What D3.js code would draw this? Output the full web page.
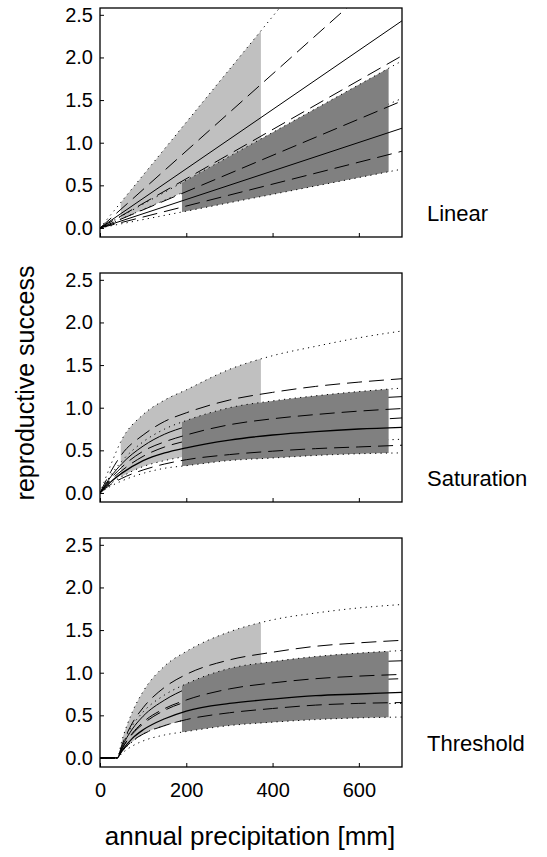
<!DOCTYPE html>
<html>
<head>
    <title>Reproductive success</title>
    <script src="https://d3js.org/d3.v7.min.js"></script>
    <style>
        body { margin: 0; background: white; }
        text { font-family: "Liberation Sans", Arial, sans-serif; fill: black; }
    </style>
</head>
<body>
<div id="chart"></div>
<script>
    // panel names and tick values
    const panelNames = ["Linear", "Saturation", "Threshold"];
    const yTicks = [0, 0.5, 1.0, 1.5, 2.0, 2.5];
    const xTicks = [0, 200, 400, 600];

    // line order in every group: 95% upper, 50% upper, median, 50% lower, 95% lower
    const lineStyles = ["dotted", "dashed", "solid", "dashed", "dotted"];

    // x spans of the shaded bands (group A light grey, group B dark grey)
    const bandA = [48, 373];
    const bandB = [190, 669];

    // Linear
    const xLin = [0, 700];
    const linA = [
        [0, 4.34], [0, 3.16], [0, 2.43], [0, 2.02], [0, 1.52]
    ];
    const linB = [
        [0, 1.96], [0, 1.49], [0, 1.17], [0, 0.90], [0, 0.69]
    ];

    // Saturation
    const xSat = [0, 25, 50, 100, 150, 200, 300, 400, 500, 600, 700];
    const satA = [
        [0, 0.33, 0.62, 0.92, 1.09, 1.21, 1.45, 1.61, 1.72, 1.82, 1.90],
        [0, 0.25, 0.45, 0.68, 0.84, 0.94, 1.09, 1.18, 1.25, 1.30, 1.34],
        [0, 0.19, 0.34, 0.55, 0.69, 0.78, 0.92, 0.99, 1.05, 1.10, 1.13],
        [0, 0.15, 0.26, 0.43, 0.54, 0.61, 0.71, 0.77, 0.82, 0.85, 0.88],
        [0, 0.11, 0.19, 0.31, 0.38, 0.43, 0.51, 0.55, 0.59, 0.61, 0.63]
    ];
    const satB = [
        [0, 0.21, 0.37, 0.60, 0.75, 0.85, 1.00, 1.08, 1.14, 1.19, 1.23],
        [0, 0.17, 0.30, 0.49, 0.60, 0.68, 0.80, 0.87, 0.92, 0.96, 0.99],
        [0, 0.13, 0.23, 0.38, 0.47, 0.53, 0.62, 0.68, 0.72, 0.75, 0.77],
        [0, 0.10, 0.17, 0.27, 0.34, 0.39, 0.45, 0.49, 0.52, 0.54, 0.56],
        [0, 0.08, 0.14, 0.23, 0.29, 0.32, 0.38, 0.41, 0.44, 0.46, 0.47]
    ];

    // Threshold
    const xThr = [0, 40, 50, 75, 100, 150, 200, 300, 400, 500, 600, 700];
    const thrA = [
        [0, 0, 0.19, 0.54, 0.78, 1.08, 1.25, 1.48, 1.62, 1.70, 1.76, 1.80],
        [0, 0, 0.14, 0.41, 0.59, 0.83, 0.98, 1.15, 1.24, 1.31, 1.35, 1.38],
        [0, 0, 0.12, 0.34, 0.49, 0.68, 0.81, 0.95, 1.03, 1.08, 1.12, 1.14],
        [0, 0, 0.10, 0.28, 0.40, 0.56, 0.66, 0.77, 0.84, 0.88, 0.91, 0.93],
        [0, 0, 0.07, 0.19, 0.28, 0.38, 0.45, 0.53, 0.58, 0.61, 0.63, 0.64]
    ];
    const thrB = [
        [0, 0, 0.13, 0.38, 0.54, 0.74, 0.87, 1.05, 1.13, 1.19, 1.23, 1.26],
        [0, 0, 0.10, 0.29, 0.42, 0.58, 0.68, 0.81, 0.88, 0.93, 0.96, 0.98],
        [0, 0, 0.08, 0.23, 0.33, 0.46, 0.55, 0.64, 0.69, 0.73, 0.75, 0.77],
        [0, 0, 0.07, 0.20, 0.28, 0.38, 0.45, 0.53, 0.58, 0.62, 0.64, 0.65],
        [0, 0, 0.05, 0.14, 0.20, 0.27, 0.31, 0.38, 0.42, 0.45, 0.47, 0.48]
    ];

    const panels = [
        { x: xLin, a: linA, b: linB },
        { x: xSat, a: satA, b: satB },
        { x: xThr, a: thrA, b: thrB }
    ];

    const width = 547, height = 857;
    const left = 100, right = 402;
    const panelTop = 8, panelStep = 265, panelH = 229;

    const dash = { solid: null, dashed: "15 7", dotted: "1.2 4.2" };

    const svg = d3.select("#chart").append("svg")
        .attr("width", width)
        .attr("height", height);

    const x = d3.scaleLinear().domain([0, 700]).range([left, right]);

    panels.forEach((p, i) => {
        const top = panelTop + i * panelStep;
        const y = d3.scaleLinear().domain([-0.106, 2.58]).range([top + panelH, top]);
        const g = svg.append("g");

        // clip paths: whole plot, band A, band B
        const defs = g.append("defs");
        defs.append("clipPath").attr("id", "plot" + i)
            .append("rect").attr("x", left).attr("y", top)
            .attr("width", right - left).attr("height", panelH);
        defs.append("clipPath").attr("id", "bandA" + i)
            .append("rect").attr("x", x(bandA[0])).attr("y", top)
            .attr("width", x(bandA[1]) - x(bandA[0])).attr("height", panelH);
        defs.append("clipPath").attr("id", "bandB" + i)
            .append("rect").attr("x", x(bandB[0])).attr("y", top)
            .attr("width", x(bandB[1]) - x(bandB[0])).attr("height", panelH);

        const line = d3.line()
            .x((d, k) => x(p.x[k]))
            .y(d => y(d))
            .curve(d3.curveMonotoneX);

        const area = (upper, lower) => d3.area()
            .x((d, k) => x(p.x[k]))
            .y0((d, k) => y(lower[k]))
            .y1((d, k) => y(upper[k]))
            .curve(d3.curveMonotoneX)(upper);

        const plot = g.append("g").attr("clip-path", `url(#plot${i})`);

        // light band
        plot.append("path")
            .attr("clip-path", `url(#bandA${i})`)
            .attr("d", area(p.a[0], p.a[4]))
            .attr("fill", "#c0c0c0");

        // group A lines
        plot.selectAll(".lineA")
            .data(p.a)
            .join("path")
            .attr("class", "lineA")
            .attr("d", line)
            .attr("fill", "none")
            .attr("stroke", "black")
            .attr("stroke-width", 1)
            .attr("stroke-dasharray", (d, k) => dash[lineStyles[k]]);

        // dark band
        plot.append("path")
            .attr("clip-path", `url(#bandB${i})`)
            .attr("d", area(p.b[0], p.b[4]))
            .attr("fill", "#808080");

        // group B lines
        plot.selectAll(".lineB")
            .data(p.b)
            .join("path")
            .attr("class", "lineB")
            .attr("d", line)
            .attr("fill", "none")
            .attr("stroke", "black")
            .attr("stroke-width", (d, k) => lineStyles[k] === "solid" && i > 0 ? 1.3 : 1)
            .attr("stroke-dasharray", (d, k) => dash[lineStyles[k]]);

        // y axis
        const yAxis = g.append("g")
            .attr("transform", `translate(${left},0)`)
            .call(d3.axisLeft(y).tickValues(yTicks).tickFormat(d3.format(".1f"))
                .tickSize(-4).tickPadding(7));
        yAxis.select(".domain").remove();
        yAxis.selectAll("text").style("font-size", "20px")
            .attr("font-family", null);

        // x axis
        const xAxis = g.append("g")
            .attr("transform", `translate(0,${top + panelH})`)
            .call(d3.axisBottom(x).tickValues(xTicks)
                .tickFormat(i === 2 ? d3.format("d") : "")
                .tickSize(-4).tickPadding(16));
        xAxis.select(".domain").remove();
        xAxis.selectAll("text").style("font-size", "20px")
            .attr("font-family", null);

        // frame
        g.append("rect")
            .attr("x", left).attr("y", top)
            .attr("width", right - left).attr("height", panelH)
            .attr("fill", "none")
            .attr("stroke", "black")
            .attr("stroke-width", 1.3);

        // panel label
        g.append("text")
            .attr("x", 427)
            .attr("y", top + 213)
            .style("font-size", "22px")
            .text(panelNames[i]);
    });

    // axis titles
    svg.append("text")
        .attr("x", 250)
        .attr("y", 845)
        .attr("text-anchor", "middle")
        .style("font-size", "26px")
        .text("annual precipitation [mm]");

    svg.append("text")
        .attr("transform", "translate(34,383) rotate(-90)")
        .attr("text-anchor", "middle")
        .style("font-size", "25px")
        .text("reproductive success");
</script>
</body>
</html>
